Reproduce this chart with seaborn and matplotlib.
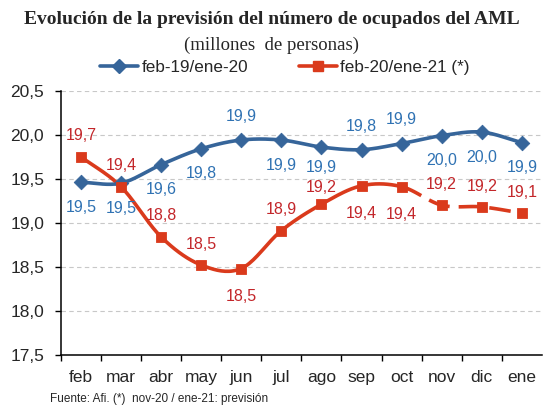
import numpy as np
import pandas as pd
import matplotlib
matplotlib.use("Agg")
import matplotlib.pyplot as plt
from matplotlib.lines import Line2D
import seaborn as sns

# Datos (millones de personas)
meses = ["feb", "mar", "abr", "may", "jun", "jul", "ago", "sep", "oct", "nov", "dic", "ene"]
serie_19 = [19.46, 19.45, 19.66, 19.84, 19.94, 19.94, 19.86, 19.83, 19.90, 19.99, 20.03, 19.91]
serie_20 = [19.75, 19.41, 18.84, 18.52, 18.48, 18.91, 19.21, 19.42, 19.41, 19.20, 19.18, 19.11]
etiq_19 = ["19,5", "19,5", "19,6", "19,8", "19,9", "19,9", "19,9", "19,8", "19,9", "20,0", "20,0", "19,9"]
etiq_20 = ["19,7", "19,4", "18,8", "18,5", "18,5", "18,9", "19,2", "19,4", "19,4", "19,2", "19,2", "19,1"]
# posicion de la etiqueta: 1 encima, -1 debajo
pos_19 = [-1, -1, -1, -1, 1, -1, -1, 1, 1, -1, -1, -1]
pos_20 = [1, 1, 1, 1, -1, 1, 1, -1, -1, 1, 1, 1]
n_real = 9  # feb-oct dato real, nov-ene prevision

AZUL = "#36659a"
AZUL_TXT = "#2f72b3"
ROJO = "#da3a1c"
ROJO_TXT = "#c3262a"


def suavizar(x, y, n=20):
    # curva tipo Catmull-Rom, como la linea suavizada de Excel
    x = np.asarray(x, float)
    y = np.asarray(y, float)
    px = np.concatenate([[2 * x[0] - x[1]], x, [2 * x[-1] - x[-2]]])
    py = np.concatenate([[2 * y[0] - y[1]], y, [2 * y[-1] - y[-2]]])
    xs, ys = [], []
    t = np.linspace(0, 1, n, endpoint=False)
    for i in range(1, len(px) - 2):
        for p, out in ((px, xs), (py, ys)):
            p0, p1, p2, p3 = p[i - 1], p[i], p[i + 1], p[i + 2]
            out.extend(0.5 * ((2 * p1) + (-p0 + p2) * t
                              + (2 * p0 - 5 * p1 + 4 * p2 - p3) * t ** 2
                              + (-p0 + 3 * p1 - 3 * p2 + p3) * t ** 3))
    xs.append(x[-1])
    ys.append(y[-1])
    return np.array(xs), np.array(ys)


sns.set_style("white")
plt.rcParams["font.family"] = ["Liberation Sans", "DejaVu Sans"]

fig = plt.figure(figsize=(5.43, 4.05), dpi=100)
ax = fig.add_axes([0.112, 0.124, 0.886, 0.652])

idx = np.arange(len(meses))

# linea azul
cx, cy = suavizar(idx, serie_19)
sns.lineplot(x=cx, y=cy, sort=False, estimator=None, color=AZUL, lw=2.6, ax=ax)
sns.scatterplot(x=idx, y=serie_19, marker="D", s=55, color=AZUL, edgecolor=AZUL, ax=ax, zorder=3)

# linea roja: continua hasta oct, discontinua despues
cx, cy = suavizar(idx, serie_20)
corte = (n_real - 1) * 20 + 1
sns.lineplot(x=cx[:corte], y=cy[:corte], sort=False, estimator=None, color=ROJO, lw=2.6, ax=ax)
ax.plot(cx[corte - 1:], cy[corte - 1:], color=ROJO, lw=2.6, dashes=(6, 2.5))
sns.scatterplot(x=idx, y=serie_20, marker="s", s=55, color=ROJO, edgecolor=ROJO, ax=ax, zorder=3)

for i in idx:
    off = 17 if pos_19[i] > 0 else -18
    if meses[i] == "ago":
        off = -15  # evita que se pise con la etiqueta roja
    ax.annotate(etiq_19[i], (i, serie_19[i]), xytext=(0, off), textcoords="offset points",
                ha="center", va="center", fontsize=11.5, color=AZUL_TXT)
    off = 15 if pos_20[i] > 0 else -20
    if meses[i] == "ago":
        off = 12
    ax.annotate(etiq_20[i], (i, serie_20[i]), xytext=(0, off), textcoords="offset points",
                ha="center", va="center", fontsize=11.5, color=ROJO_TXT)

ax.set_xlim(-0.5, len(meses) - 0.5)
ax.set_ylim(17.5, 20.5)
ax.set_yticks(np.arange(17.5, 20.51, 0.5))
ax.set_yticklabels([f"{v:.1f}".replace(".", ",") for v in np.arange(17.5, 20.51, 0.5)], fontsize=12.5)
ax.set_xticks(idx)
ax.set_xticklabels(meses, fontsize=12.5)
ax.set_xticks(np.arange(-0.5, len(meses) - 0.5), minor=True)
ax.tick_params(axis="x", which="major", length=0, pad=11)
ax.tick_params(axis="x", which="minor", length=4, width=1, color="black", direction="out", bottom=True)
ax.tick_params(axis="y", length=4, width=1, color="black", direction="out", left=True, pad=8)
ax.grid(axis="y", color="#c8c8c8", ls=(0, (4, 3)), lw=0.8)
ax.set_axisbelow(True)
for s in ["top", "right"]:
    ax.spines[s].set_visible(False)
for s in ["left", "bottom"]:
    ax.spines[s].set_color("black")
    ax.spines[s].set_linewidth(1.1)

fig.text(0.5, 0.953, "Evolución de la previsión del número de ocupados del AML", ha="center", va="center",
         fontsize=14, fontweight="bold", family="Liberation Serif")
fig.text(0.5, 0.889, "(millones  de personas)", ha="center", va="center", fontsize=13.5,
         family="Liberation Serif")

handles = [Line2D([], [], color=AZUL, lw=2.6, marker="D", ms=7),
           Line2D([], [], color=ROJO, lw=2.6, marker="s", ms=7)]
fig.legend(handles, ["feb-19/ene-20", "feb-20/ene-21 (*)"], loc="center", bbox_to_anchor=(0.525, 0.833),
           ncol=2, frameon=False, fontsize=12.3, handlelength=2.2, handletextpad=0.2, columnspacing=3.0)

fig.text(0.092, 0.015, "Fuente: Afi. (*)  nov-20 / ene-21: previsión", ha="left", va="center", fontsize=8.5)

fig.savefig("out.png", dpi=100)
